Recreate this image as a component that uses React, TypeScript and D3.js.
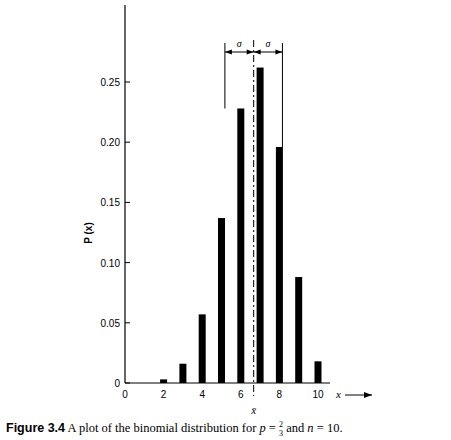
import * as d3 from 'd3'

const xs = [0, 1, 2, 3, 4, 5, 6, 7, 8, 9, 10]
const probs = [0.0, 0.0003, 0.003, 0.016, 0.057, 0.137, 0.228, 0.262, 0.196, 0.088, 0.018]
const yTicks = [0, 0.05, 0.1, 0.15, 0.2, 0.25]
const xTicks = [0, 2, 4, 6, 8, 10]
const mean = 20 / 3
const sigma = Math.sqrt(10 * (2 / 3) * (1 / 3))

export default function App() {
  const x = d3.scaleLinear().domain([0, 10]).range([125, 318])
  const y = d3.scaleLinear().domain([0, 0.25]).range([383, 82])
  const font = 'Liberation Sans, Arial, sans-serif'
  const xl = x(mean - sigma), xr = x(mean + sigma), xm = x(mean)
  return (
    <svg width={451} height={440} style={{ position: 'absolute', left: 0, top: 0, background: '#fff' }}>
      <line x1={125} x2={125} y1={5} y2={383} stroke="#000" strokeWidth={1.2} />
      <line x1={125} x2={330} y1={383} y2={383} stroke="#000" strokeWidth={1.2} />
      {yTicks.map(t => (
        <g key={t}>
          <line x1={125} x2={130} y1={y(t)} y2={y(t)} stroke="#000" />
          <text x={120} y={y(t) + 4} textAnchor="end" fontFamily={font} fontSize={10}>{t === 0 ? '0' : t.toFixed(2)}</text>
        </g>
      ))}
      {xTicks.map(t => (
        <text key={t} x={x(t)} y={398} textAnchor="middle" fontFamily={font} fontSize={10}>{t}</text>
      ))}
      {xs.map((v, i) => probs[i] > 0.001 ? (
        <rect key={v} x={x(v) - 3.5} width={7} y={y(probs[i])} height={383 - y(probs[i])} fill="#000" />
      ) : null)}
      <text transform="translate(92,233) rotate(-90)" textAnchor="middle" fontFamily={font} fontSize={10} fontWeight="bold">P (x)</text>
      <text x={336} y={398} fontFamily="Liberation Serif, serif" fontStyle="italic" fontSize={11}>x</text>
      <line x1={345} x2={372} y1={395} y2={395} stroke="#000" />
      <path d="M372,395 L364,392 L364,398 Z" fill="#000" />
      <line x1={xm} x2={xm} y1={40} y2={396} stroke="#000" strokeDasharray="7,3,2,3" />
      <text x={xm} y={414} textAnchor="middle" fontFamily="Liberation Serif, serif" fontStyle="italic" fontSize={11}>x̄</text>
      <line x1={xl} x2={xl} y1={43} y2={y(probs[6])} stroke="#000" />
      <line x1={xr} x2={xr} y1={43} y2={y(probs[8])} stroke="#000" />
      {[[xl, xm], [xm, xr]].map(([a, b], i) => (
        <g key={i}>
          <line x1={a} x2={b} y1={52} y2={52} stroke="#000" />
          <path d={`M${a},52 L${a + 7},49.5 L${a + 7},54.5 Z`} fill="#000" />
          <path d={`M${b},52 L${b - 7},49.5 L${b - 7},54.5 Z`} fill="#000" />
          <text x={(a + b) / 2} y={47} textAnchor="middle" fontFamily="Liberation Serif, serif" fontStyle="italic" fontSize={10}>σ</text>
        </g>
      ))}
      <text x={6} y={432} fontFamily="Liberation Serif, serif" fontSize={12.5}>
        <tspan fontWeight="bold" fontFamily="Liberation Sans, Arial, sans-serif">Figure 3.4</tspan>
        <tspan> A plot of the binomial distribution for </tspan>
        <tspan fontStyle="italic">p</tspan>
        <tspan> = </tspan>
        <tspan fontSize={8} dy={-5}>2</tspan>
        <tspan fontSize={8} dx={-4} dy={9}>3</tspan>
        <tspan dy={-4}> and </tspan>
        <tspan fontStyle="italic">n</tspan>
        <tspan> = 10.</tspan>
      </text>
    </svg>
  )
}
